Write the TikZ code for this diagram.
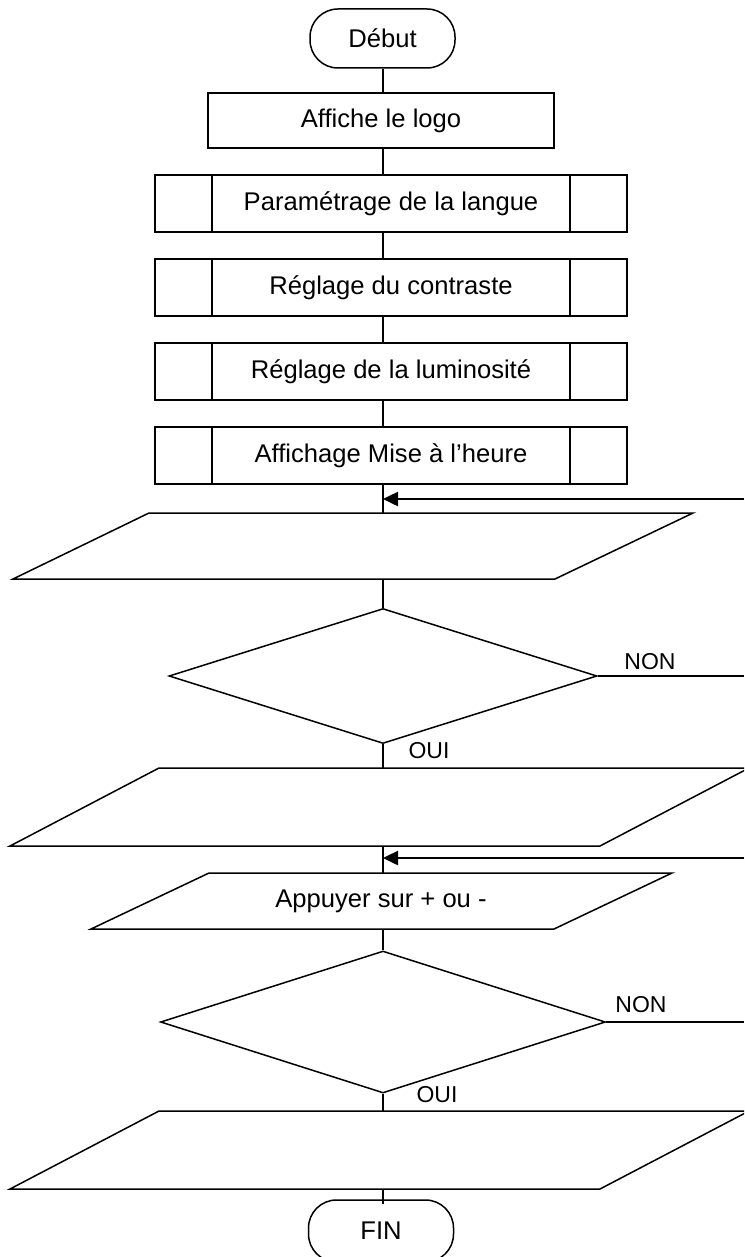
\documentclass[tikz,border=0pt]{standalone}
\usepackage{fontspec}
\setmainfont{Liberation Sans}
\usetikzlibrary{shapes.geometric,arrows.meta}
\tikzset{
  txt/.style={font=\fontsize{12.8pt}{15pt}\selectfont},
  lbl/.style={font=\fontsize{11.5pt}{14pt}\selectfont, inner sep=0pt},
  outline/.style={draw=black, line width=0.75pt},
  procbox/.style={outline, rectangle, inner sep=0pt, txt},
  termbox/.style={outline, rectangle, rounded corners=14pt, inner sep=0pt, txt,
    minimum width=72.5pt, minimum height=29.5pt},
  subproc/.style={procbox, minimum width=236pt, minimum height=28.5pt,
    path picture={
      \draw[line width=0.75pt] ([xshift=28.5pt]path picture bounding box.north west) -- ([xshift=28.5pt]path picture bounding box.south west);
      \draw[line width=0.75pt] ([xshift=-28.5pt]path picture bounding box.north east) -- ([xshift=-28.5pt]path picture bounding box.south east);
    }},
  decision/.style={outline, diamond, inner sep=0pt},
  conn/.style={line width=0.7pt},
  looparrow/.style={line width=1.25pt, -{Triangle[length=7.5pt,width=7pt]}},
}
\begin{document}
\begin{tikzpicture}[x=0.5pt, y=-0.5pt]
\path[use as bounding box, fill=white] (0,0) rectangle (744,1257);
\coordinate (ax) at (383,0);
\coordinate (rx) at (744,0);

% top part
\node[termbox] (debut) at (382.5,38.5) {Début};
\node[procbox, minimum width=173pt, minimum height=27.5pt] (logo) at (381,120.5) {Affiche le logo};
\node[subproc] (langue) at (391,203.5) {Paramétrage de la langue};
\node[subproc] (contraste) at (391,287.5) {Réglage du contraste};
\node[subproc] (lumi) at (391,371.5) {Réglage de la luminosité};
\node[subproc] (heure) at (391,455.5) {Affichage Mise à l’heure};

% first input/output
\draw[outline] (149,513) -- (693,513) -- (555,579) -- (13,579) -- cycle;
\coordinate (p1t) at (383,513);
\coordinate (p1b) at (383,579);

\node[decision, minimum width=214pt, minimum height=67.5pt] (d1) at (383,676) {};

\begin{scope}
\clip (0,0) rectangle (744,1257);
\draw[outline] (159,768) -- (749,768) -- (600,846) -- (10,846) -- cycle;
\draw[outline] (159,1111) -- (749,1111) -- (600,1189) -- (10,1189) -- cycle;
\node[termbox, minimum height=31pt] (fin) at (381,1231) {FIN};
\end{scope}
\coordinate (p2t) at (383,768);
\coordinate (p2b) at (383,846);

\draw[outline] (209,873) -- (672,873) -- (554,929) -- (91,929) -- cycle;
\node[txt, inner sep=0pt] (appuyer) at (381,901) {Appuyer sur + ou -};
\coordinate (p3t) at (383,873);
\coordinate (p3b) at (383,929);

\node[decision, minimum width=222.5pt, minimum height=71pt] (d2) at (383,1022) {};
\coordinate (p4t) at (383,1111);
\coordinate (p4b) at (383,1189);

% labels
\node[lbl] (non1) at (650,662) {NON};
\node[lbl] (oui1) at (429,751) {OUI};
\node[lbl] (non2) at (641,1005) {NON};
\node[lbl] (oui2) at (437,1095) {OUI};

% loop entry points
\coordinate (in1) at (744,499);
\coordinate (in2) at (744,858);

% connectors
\draw[conn] (debut.south -| ax) -- (logo.north -| ax);
\draw[conn] (logo.south -| ax) -- (langue.north -| ax);
\draw[conn] (langue.south -| ax) -- (contraste.north -| ax);
\draw[conn] (contraste.south -| ax) -- (lumi.north -| ax);
\draw[conn] (lumi.south -| ax) -- (heure.north -| ax);
\draw[conn] (heure.south -| ax) -- (p1t);
\draw[conn] (p1b) -- (d1.north);
\draw[conn] (d1.south) -- (p2t);
\draw[conn] (p2b) -- (p3t);
\draw[conn] (p3b) -- (d2.north);
\draw[conn] (d2.south) -- (p4t);
\draw[conn] (p4b) -- ([yshift=-2.5pt]fin.north -| ax);
\draw[conn] (d1.east) -- (d1.east -| rx);
\draw[conn] (d2.east) -- (d2.east -| rx);
\draw[looparrow] (in1) -- (in1 -| ax);
\draw[looparrow] (in2) -- (in2 -| ax);
\end{tikzpicture}
\end{document}
